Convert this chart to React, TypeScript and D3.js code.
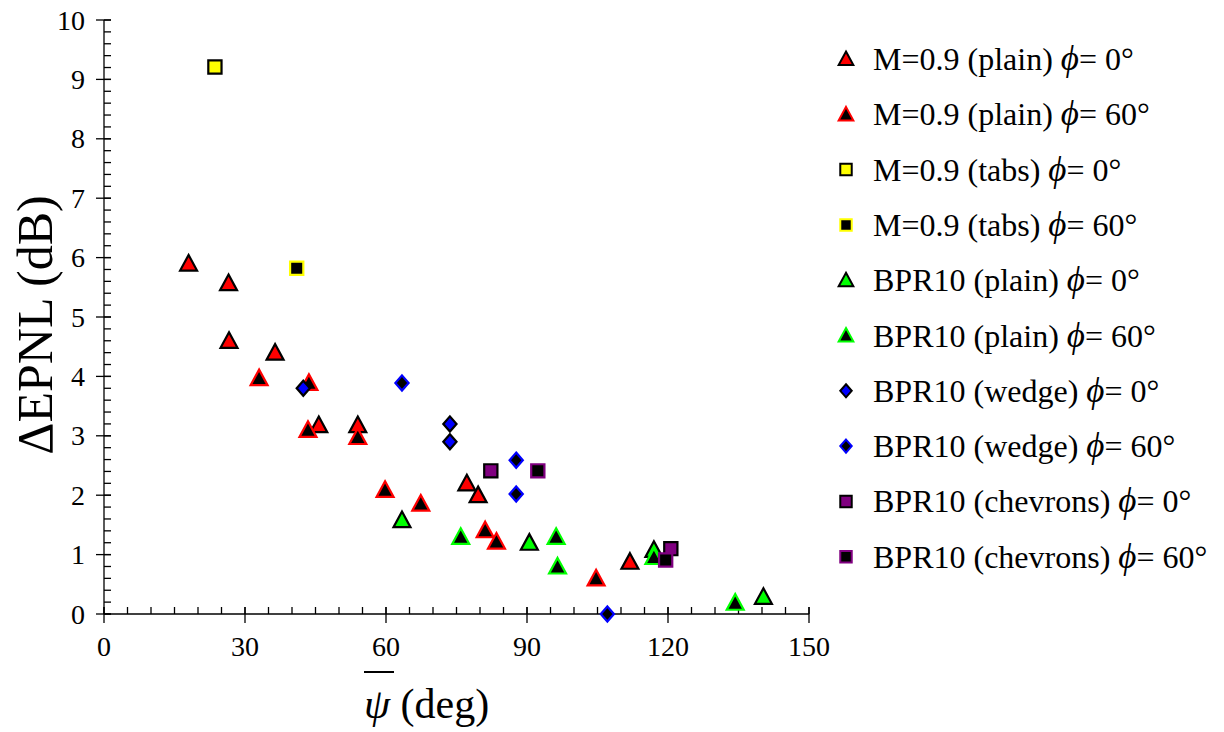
import React from "react";
import * as d3 from "d3";

const xTicks = [0, 30, 60, 90, 120, 150];
const yTicks = [0, 1, 2, 3, 4, 5, 6, 7, 8, 9, 10];

const redPlain0: [number, number][] = [[18, 5.9], [26.5, 5.57], [26.6, 4.6], [36.4, 4.4], [45.7, 3.18], [54, 3.18], [77.2, 2.2], [79.6, 2.0], [111.9, 0.88]];
const redPlain60: [number, number][] = [[33, 3.97], [43.6, 3.89], [43.4, 3.1], [54, 2.98], [59.8, 2.09], [67.4, 1.86], [81.1, 1.41], [83.5, 1.22], [104.7, 0.6]];
const tabs0: [number, number][] = [[23.6, 9.21]];
const tabs60: [number, number][] = [[41.0, 5.82]];
const bprPlain0: [number, number][] = [[63.4, 1.58], [90.5, 1.2], [117, 1.08], [140.3, 0.29]];
const bprPlain60: [number, number][] = [[75.9, 1.3], [96.2, 1.3], [96.5, 0.8], [117, 0.96], [134.3, 0.19]];
const wedge0: [number, number][] = [[42.4, 3.8], [73.6, 3.2], [73.6, 2.9]];
const wedge60: [number, number][] = [[63.4, 3.89], [87.7, 2.59], [87.7, 2.02], [107.1, 0.0]];
const chev0: [number, number][] = [[82.3, 2.41], [120.6, 1.1]];
const chev60: [number, number][] = [[92.3, 2.41], [119.5, 0.91]];

type Shape = "tri" | "sq" | "dia";
interface Series { label: string; phi: string; data: [number, number][]; shape: Shape; fill: string; stroke: string; }

const series: Series[] = [
  { label: "M=0.9 (plain) ", phi: "= 0°", data: redPlain0, shape: "tri", fill: "#ff0000", stroke: "#000000" },
  { label: "M=0.9 (plain) ", phi: "= 60°", data: redPlain60, shape: "tri", fill: "#000000", stroke: "#ff0000" },
  { label: "M=0.9 (tabs) ", phi: "= 0°", data: tabs0, shape: "sq", fill: "#ffff00", stroke: "#000000" },
  { label: "M=0.9 (tabs) ", phi: "= 60°", data: tabs60, shape: "sq", fill: "#000000", stroke: "#ffff00" },
  { label: "BPR10 (plain) ", phi: "= 0°", data: bprPlain0, shape: "tri", fill: "#00ff00", stroke: "#000000" },
  { label: "BPR10 (plain) ", phi: "= 60°", data: bprPlain60, shape: "tri", fill: "#000000", stroke: "#00ff00" },
  { label: "BPR10 (wedge) ", phi: "= 0°", data: wedge0, shape: "dia", fill: "#0000ff", stroke: "#000000" },
  { label: "BPR10 (wedge) ", phi: "= 60°", data: wedge60, shape: "dia", fill: "#000000", stroke: "#0000ff" },
  { label: "BPR10 (chevrons) ", phi: "= 0°", data: chev0, shape: "sq", fill: "#800080", stroke: "#000000" },
  { label: "BPR10 (chevrons) ", phi: "= 60°", data: chev60, shape: "sq", fill: "#000000", stroke: "#800080" },
];

const shapeScale: Record<Shape, number> = { tri: 1.13, sq: 1.05, dia: 1.05 };

function markerPath(shape: Shape, base: number): string {
  const s = base * shapeScale[shape];
  const h = s / 2;
  if (shape === "tri") {
    const th = s * 0.92;
    return `M0,${-th * 0.55}L${h},${th * 0.45}L${-h},${th * 0.45}Z`;
  }
  if (shape === "sq") {
    const q = s * 0.42;
    return `M${-q},${-q}H${q}V${q}H${-q}Z`;
  }
  const w = s * 0.42, v = s * 0.48;
  return `M0,${-v}L${w},0L0,${v}L${-w},0Z`;
}

const FONT = "'Liberation Serif', 'Times New Roman', serif";

export default function App() {
  const W = 1224, H = 732;
  const x = d3.scaleLinear().domain([0, 150]).range([104, 809]);
  const y = d3.scaleLinear().domain([0, 10]).range([614, 20]);
  const xMinor = d3.range(0, 151, 5);
  const yMinor = d3.range(0, 10.01, 0.2);

  const legendX = 846, legendTextX = 873, legendY0 = 59, legendDy = 55.3;

  return (
    <svg width={W} height={H} style={{ position: "absolute", left: 0, top: 0, background: "#fff" }} fontFamily={FONT}>
      <rect width={W} height={H} fill="#fff" />
      {/* axes */}
      <g stroke="#000" strokeWidth={1.3}>
        <line x1={x(0)} x2={x(150)} y1={y(0)} y2={y(0)} />
        <line x1={x(0)} x2={x(0)} y1={y(0)} y2={y(10)} />
        {xMinor.map((v) => (
          <line key={"xm" + v} x1={x(v)} x2={x(v)} y1={y(0)} y2={y(0) - 7} />
        ))}
        {xTicks.map((v) => (
          <line key={"xM" + v} x1={x(v)} x2={x(v)} y1={y(0) - 7} y2={y(0) + 9} />
        ))}
        {yMinor.map((v, i) => (
          <line key={"ym" + i} x1={x(0)} x2={x(0) + 7} y1={y(v)} y2={y(v)} />
        ))}
        {yTicks.map((v) => (
          <line key={"yM" + v} x1={x(0) - 8} x2={x(0) + 7} y1={y(v)} y2={y(v)} />
        ))}
      </g>
      {xTicks.map((v) => (
        <text key={"xl" + v} x={x(v)} y={656} fontSize={28} textAnchor="middle">{v}</text>
      ))}
      {yTicks.map((v) => (
        <text key={"yl" + v} x={85} y={y(v) + 9.5} fontSize={28} textAnchor="end">{v}</text>
      ))}
      {/* axis titles */}
      <text transform={`translate(52,${325}) rotate(-90)`} fontSize={50} textAnchor="middle">ΔEPNL (dB)</text>
      <text x={364} y={718} fontSize={42}>
        <tspan fontStyle="italic">ψ</tspan> (deg)
      </text>
      <line x1={364} x2={394} y1={672} y2={672} stroke="#000" strokeWidth={2} />
      {/* points */}
      {series.map((s, si) => (
        <g key={"s" + si}>
          {s.data.map((d, i) => (
            <path key={i} d={markerPath(s.shape, 15)} transform={`translate(${x(d[0])},${y(d[1])})`}
              fill={s.fill} stroke={s.stroke} strokeWidth={2.2} strokeLinejoin="miter" />
          ))}
        </g>
      ))}
      {/* legend */}
      {series.map((s, si) => {
        const ly = legendY0 + si * legendDy;
        return (
          <g key={"lg" + si}>
            <path d={markerPath(s.shape, 13)} transform={`translate(${legendX},${ly})`} fill={s.fill} stroke={s.stroke} strokeWidth={2} />
            <text x={legendTextX} y={ly + 11} fontSize={32}>
              {s.label}
              <tspan fontStyle="italic" fontSize={35}>ϕ</tspan>
              {s.phi}
            </text>
          </g>
        );
      })}
    </svg>
  );
}
